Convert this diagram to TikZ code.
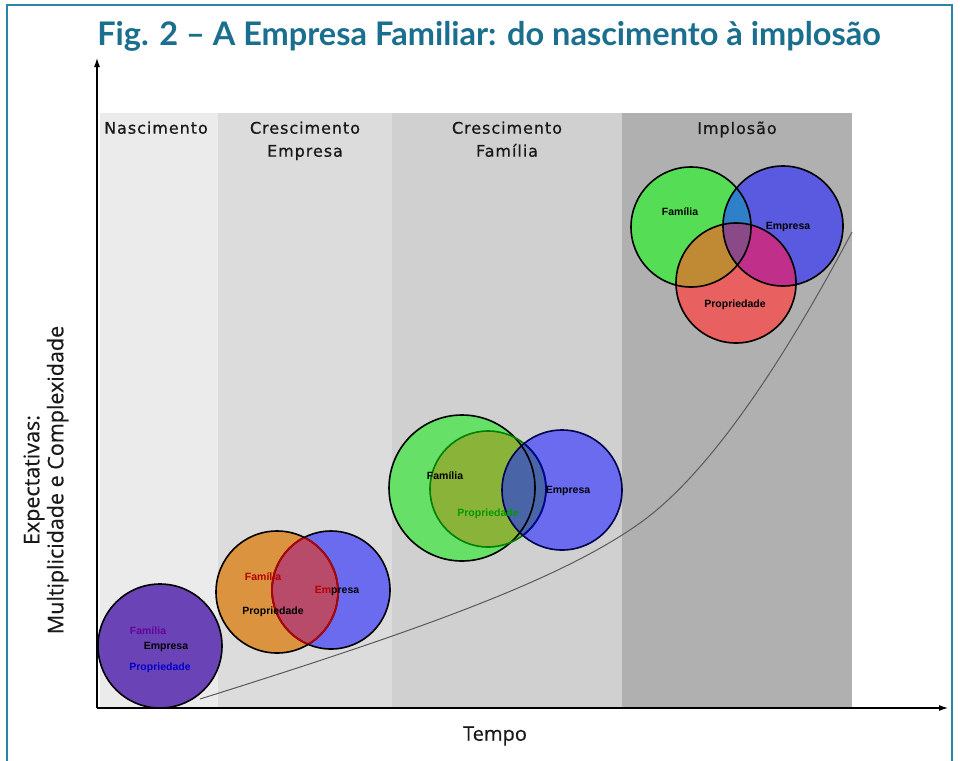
\documentclass[tikz,border=0pt]{standalone}
\usepackage{fontspec}
\setmainfont{Open Sans}
\newfontfamily\titlefont{Lato}
\newfontfamily\bandfont[LetterSpace=6, FakeBold=0.7]{DejaVu Sans}
\newfontfamily\axisfont[FakeBold=0.4]{Open Sans}
\newfontfamily\vennfont{Liberation Sans}
\usetikzlibrary{arrows.meta}
\definecolor{frameblue}{HTML}{2A85A8}
\definecolor{titleteal}{HTML}{1A6E8E}
\definecolor{bandA}{HTML}{EBEBEB}
\definecolor{bandB}{HTML}{DCDCDC}
\definecolor{bandC}{HTML}{D0D0D0}
\definecolor{bandD}{HTML}{B0B0B0}
\definecolor{purpleF}{HTML}{6A44B6}
\definecolor{orangeF}{HTML}{DB9340}
\definecolor{blueF}{HTML}{6B6BEF}
\definecolor{lensF}{HTML}{B84A6A}
\definecolor{greenF}{HTML}{66E066}
\definecolor{oliveF}{HTML}{8AB33A}
\definecolor{gbF}{HTML}{3D7FC4}
\definecolor{obF}{HTML}{4A64A8}
\definecolor{greenG}{HTML}{55DD55}
\definecolor{blueG}{HTML}{5A5AE0}
\definecolor{redG}{HTML}{E86060}
\definecolor{tealG}{HTML}{2F80C8}
\definecolor{brownG}{HTML}{C08A35}
\definecolor{magentaG}{HTML}{C0308A}
\definecolor{mauveG}{HTML}{8A4A88}
\tikzset{
  ring/.style={draw=black, line width=1.6pt},
  lensline/.style={draw=#1, line width=1.8pt},
  bandlabel/.style={font=\bandfont\fontsize{16}{23}\selectfont, text=black!90, align=center, anchor=north},
  vennlabel/.style={font=\vennfont\bfseries\fontsize{10.5}{12}\selectfont, inner sep=0pt},
  axis/.style={line width=1.1pt, -{Latex[length=9pt,width=6pt]}},
  trend/.style={draw=black!65, line width=1pt}
}
\begin{document}
\begin{tikzpicture}[x=1pt,y=-1pt]
\useasboundingbox (0,0) rectangle (960,760);
\fill[white] (0,0) rectangle (960,760);
%%% frame and title
\draw[frameblue, line width=1.8pt] (7,775) -- (7,5) -- (952,5) -- (952,775);
\node[font=\titlefont\bfseries\fontsize{32.5}{36}\selectfont, text=titleteal] (title) at (489,36) {Fig. 2 – A Empresa Familiar: do nascimento à implosão};
%%% the four phases
\fill[bandA] (100,113) rectangle (218,707);
\fill[bandB] (218,113) rectangle (392,707);
\fill[bandC] (392,113) rectangle (622,707);
\fill[bandD] (622,113) rectangle (852,707);
\node[bandlabel] (nasc) at (156,118) {Nascimento};
\node[bandlabel] (cresE) at (305,118) {Crescimento\\Empresa};
\node[bandlabel] (cresF) at (507,118) {Crescimento\\Família};
\node[bandlabel] (impl) at (737,118) {Implosão};
%%% axes
\coordinate (origin) at (97,708);
\coordinate (ytop) at (97,58);
\coordinate (xend) at (948,708);
\draw[axis] (origin) -- (ytop);
\draw[axis] (origin) -- (xend);
\node[rotate=90, align=center, font=\axisfont\fontsize{21.5}{24}\selectfont, text=black!90] (ylab) at (46,480) {Expectativas:\\Multiplicidade e Complexidade};
\node[font=\axisfont\fontsize{20}{22}\selectfont, text=black!90] (xlab) at (495,736) {Tempo};
%%% trend line
\coordinate (t0) at (200,699);
\coordinate (t1) at (640,523);
\coordinate (t2) at (852,232);
\draw[trend] (t0) .. controls (420,630) and (560,580) .. (t1)
             .. controls (720,466) and (800,330) .. (t2);
%%% nascimento: one circle
\coordinate (n1) at (160,646);
\draw[ring, fill=purpleF] (n1) circle (62pt);
\node[vennlabel, text=violet!80!blue] (n1fam) at (148,631) {Família};
\node[vennlabel, text=black] (n1emp) at (166,647) {Empresa};
\node[vennlabel, text=blue!80!black] (n1pro) at (160,668) {Propriedade};
%%% crescimento empresa: two circles
\coordinate (e1) at (277,592);
\coordinate (e2) at (331,590);
\fill[orangeF] (e1) circle (61pt);
\fill[blueF] (e2) circle (59pt);
\begin{scope}
  \clip (e1) circle (61pt);
  \fill[lensF] (e2) circle (59pt);
\end{scope}
\draw[ring] (e1) circle (61pt);
\draw[ring] (e2) circle (59pt);
\begin{scope}
  \clip (e1) circle (60pt);
  \draw[lensline=red!70!black] (e2) circle (59pt);
\end{scope}
\begin{scope}
  \clip (e2) circle (58pt);
  \draw[lensline=red!70!black] (e1) circle (61pt);
\end{scope}
\node[vennlabel, text=red!70!black] (e1fam) at (263,577) {Família};
\node[vennlabel, text=black] (e1emp) at (337,591) {{\color{red!70!black}Em}presa};
\node[vennlabel, text=black] (e1pro) at (273,612) {Propriedade};
%%% crescimento familia: family grows
\coordinate (f1) at (462,488);
\coordinate (f2) at (488,489);
\coordinate (f3) at (562,490);
\fill[greenF] (f1) circle (73pt);
\fill[oliveF] (f2) circle (58pt);
\fill[blueF] (f3) circle (60pt);
\begin{scope}
  \clip (f3) circle (60pt);
  \fill[gbF] (f1) circle (73pt);
  \fill[obF] (f2) circle (58pt);
\end{scope}
\draw[ring] (f1) circle (73pt);
\draw[draw=green!50!black, line width=1.6pt] (f2) circle (58pt);
\draw[draw=blue!30!black, line width=1.6pt] (f3) circle (60pt);
\begin{scope}
  \clip (f3) circle (59pt);
  \draw[lensline=blue!60!black] (f2) circle (58pt);
\end{scope}
\node[vennlabel, text=black] (f1fam) at (445,476) {Família};
\node[vennlabel, text=green!60!black] (f1pro) at (488,514) {Propriedade};
\node[vennlabel, text=black] (f1emp) at (568,491) {Empresa};
%%% implosao: three circles
\coordinate (g1) at (691,227);
\coordinate (g2) at (783,226);
\coordinate (g3) at (736,283);
\fill[greenG] (g1) circle (60pt);
\fill[blueG] (g2) circle (60pt);
\fill[redG] (g3) circle (60pt);
\begin{scope}
  \clip (g1) circle (60pt);
  \fill[tealG] (g2) circle (60pt);
  \fill[brownG] (g3) circle (60pt);
\end{scope}
\begin{scope}
  \clip (g2) circle (60pt);
  \fill[magentaG] (g3) circle (60pt);
  \clip (g1) circle (60pt);
  \fill[mauveG] (g3) circle (60pt);
\end{scope}
\draw[ring] (g1) circle (60pt);
\draw[ring] (g2) circle (60pt);
\draw[ring] (g3) circle (60pt);
\node[vennlabel, text=black] (g1fam) at (680,212) {Família};
\node[vennlabel, text=black] (g1emp) at (788,227) {Empresa};
\node[vennlabel, text=black] (g1pro) at (735,305) {Propriedade};
\end{tikzpicture}
\end{document}
